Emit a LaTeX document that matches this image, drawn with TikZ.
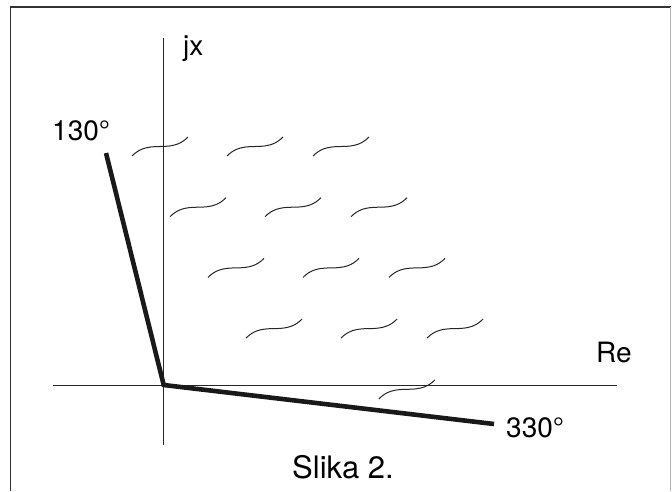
\documentclass[tikz,border=0pt]{standalone}
\usepackage{fontspec}
\setmainfont{TeX Gyre Heros}
\usetikzlibrary{positioning}

\begin{document}
\begin{tikzpicture}[x=1pt,y=-1pt]
\tikzstyle{axis}=[draw=black!85,line width=1pt]
\tikzstyle{phasor}=[draw=black!90,line width=4.6pt,line join=miter]
\tikzstyle{wave}=[draw=black!85,line width=1pt]
\tikzstyle{lbl}=[inner sep=0pt,anchor=base west,font=\fontsize{28}{32}\selectfont]
\useasboundingbox (0,0) rectangle (672,491);
% okvir
\draw[line width=1.4pt,black!80] (10.7,491) -- (10.7,7) -- (670.5,7);
\draw[line width=1.2pt,black!30] (670.5,7) -- (670.5,491);
% osi
\coordinate (o) at (163.7,385);
\coordinate (ytop) at (163.7,38);
\coordinate (ybot) at (163.7,445);
\coordinate (xleft) at (53,385);
\coordinate (xright) at (617,385);
\draw[axis] (ytop) -- (ybot);
\draw[axis] (xleft) -- (xright);
% oznake
\node[lbl] (jx) at (183,55) {jx};
\node[lbl] (re) at (596,362) {Re};
\node[lbl] (k130) at (52,140) {130°};
\node[lbl] (k330) at (506,437) {330°};
\node[lbl,font=\fontsize{31}{36}\selectfont] (slika) at (292,478) {Slika 2.};
% granice
\coordinate (p130) at (106,153);
\coordinate (p330) at (494,424);
\draw[phasor] (p130) -- (o) -- (p330);
% srafura
\foreach \r in {0,...,3}{
  \foreach \dx in {0,95,181}{
    \draw[wave] (132+38*\r+\dx,156+60.7*\r) .. controls +(7,-7) and +(-14,0) .. ++(28,-9.5)
      .. controls +(14,0) and +(-7,7) .. ++(28,-9.5);
  }
}
\draw[wave] (379,398.8) .. controls +(7,-7) and +(-14,0) .. ++(28,-9.5)
  .. controls +(14,0) and +(-7,7) .. ++(28,-9.5);
\end{tikzpicture}
\end{document}
